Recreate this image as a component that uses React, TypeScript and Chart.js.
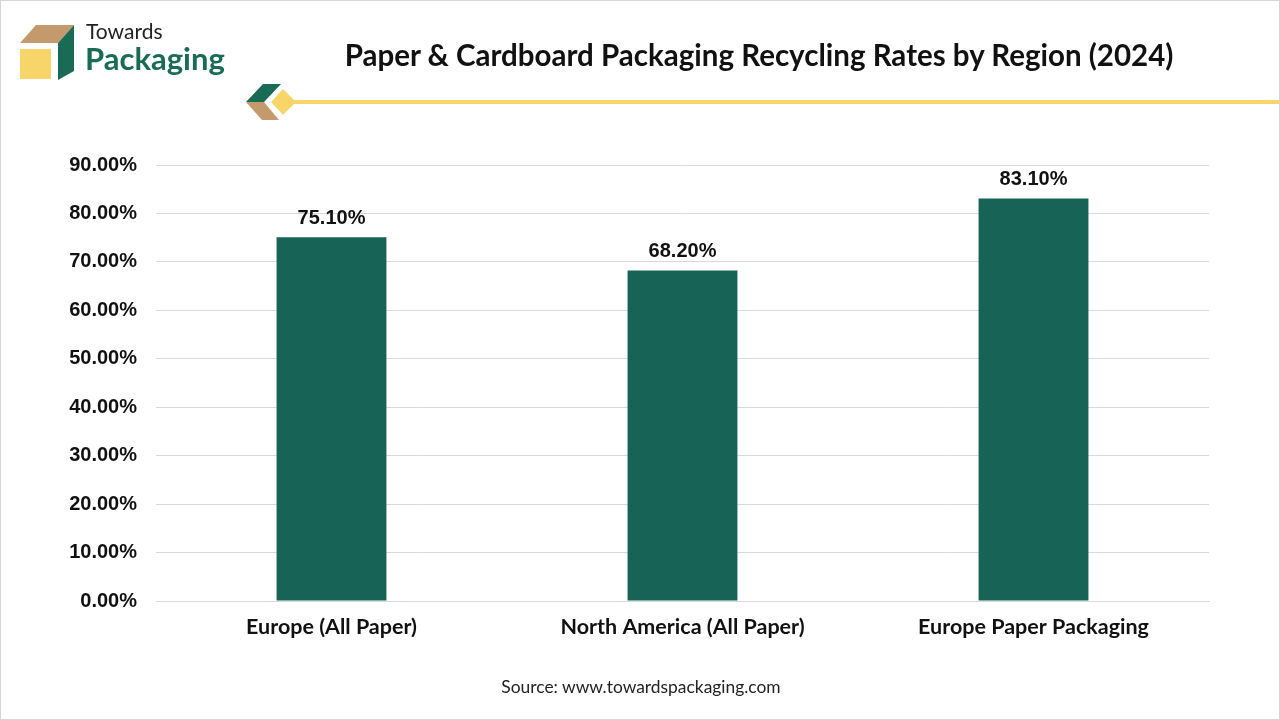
import { useEffect, useRef } from "react";
import { Chart, registerables } from "chart.js";

Chart.register(...registerables);

const regions = ["Europe (All Paper)", "North America (All Paper)", "Europe Paper Packaging"];
const recyclingRates = [75.1, 68.2, 83.1];
const yTicks = [0, 10, 20, 30, 40, 50, 60, 70, 80, 90];

const GREEN = "#176356";
const TAN = "#c49a6c";
const YELLOW = "#f8d568";

// draws the value above each bar
const valueLabels = {
  id: "valueLabels",
  afterDatasetsDraw(chart: any) {
    const ctx = chart.ctx;
    const meta = chart.getDatasetMeta(0);
    ctx.save();
    ctx.font = "bold 20px 'Liberation Sans', Arial, sans-serif";
    ctx.fillStyle = "#111";
    ctx.textAlign = "center";
    ctx.textBaseline = "bottom";
    meta.data.forEach((bar: any, i: number) => {
      ctx.fillText(recyclingRates[i].toFixed(2) + "%", bar.x, bar.y - 9);
    });
    ctx.restore();
  },
};

const RecyclingChart = () => {
  const canvasRef = useRef<HTMLCanvasElement | null>(null);

  useEffect(() => {
    if (!canvasRef.current) return;
    const chart = new Chart(canvasRef.current, {
      type: "bar",
      data: {
        labels: regions,
        datasets: [
          {
            data: recyclingRates,
            backgroundColor: GREEN,
            barPercentage: 0.626,
            categoryPercentage: 0.5,
          },
        ],
      },
      options: {
        responsive: true,
        maintainAspectRatio: false,
        animation: false,
        layout: { padding: { top: 164, right: 72, bottom: 70, left: 0 } },
        plugins: {
          legend: { display: false },
          tooltip: { enabled: false },
        },
        scales: {
          x: {
            grid: { display: false },
            border: { color: "#d9d9d9" },
            ticks: {
              color: "#111",
              padding: 5,
              font: { family: "Lato, sans-serif", weight: "bold", size: 21.5 },
            },
            afterFit: (s: any) => {
              s.height = 50;
            },
          },
          y: {
            min: 0,
            max: 90,
            afterBuildTicks: (s: any) => {
              s.ticks = yTicks.map((v) => ({ value: v }));
            },
            grid: { color: "#d9d9d9", drawTicks: false },
            border: { display: false },
            ticks: {
              color: "#111",
              padding: 19,
              font: { family: "'Liberation Sans', Arial, sans-serif", weight: "bold", size: 20 },
              callback: (v: any) => Number(v).toFixed(2) + "%",
            },
            afterFit: (s: any) => {
              s.width = 155;
            },
          },
        },
      },
      plugins: [valueLabels],
    });
    return () => chart.destroy();
  }, []);

  return <canvas ref={canvasRef}></canvas>;
};

const App = () => {
  useEffect(() => {
    document.body.style.margin = "0";
  }, []);

  return (
    <div
      style={{
        position: "relative",
        width: 1280,
        height: 720,
        background: "#fff",
        boxSizing: "border-box",
        border: "1px solid #d6d6d6",
        overflow: "hidden",
      }}
    >
      <div style={{ position: "absolute", left: 0, top: 0, width: 1280, height: 720 }}>
        <RecyclingChart />
      </div>

      {/* logo */}
      <svg style={{ position: "absolute", left: 0, top: 0 }} width={300} height={130}>
        <polygon points="19,42 35,24 73,24 57,42" fill={TAN} />
        <polygon points="57,42 73,24 73,70 57,79" fill="#1a6b55" />
        <rect x={19} y={48} width={31} height={30} fill={YELLOW} />
        <polygon points="245,101 262,83 280,83 263,101" fill="#1a6b55" />
        <polygon points="245,101 263,101 278,119 261,119" fill={TAN} />
        <polygon points="270,101 282,88 295,101 282,114" fill={YELLOW} />
      </svg>
      <div style={{ position: "absolute", left: 290, top: 99, width: 990, height: 4, background: YELLOW }} />
      <div
        style={{
          position: "absolute",
          left: 85,
          top: 18,
          fontFamily: "Lato, sans-serif",
          fontSize: 21,
          color: "#222",
          lineHeight: "24px",
        }}
      >
        Towards
      </div>
      <div
        style={{
          position: "absolute",
          left: 84,
          top: 39,
          fontFamily: "Lato, sans-serif",
          fontWeight: "bold",
          fontSize: 31,
          color: "#1a6b55",
          lineHeight: "36px",
        }}
      >
        Packaging
      </div>

      <div
        style={{
          position: "absolute",
          left: 300,
          width: 916,
          top: 35,
          textAlign: "center",
          fontFamily: "Lato, sans-serif",
          fontWeight: "bold",
          fontSize: 29.5,
          color: "#111",
          lineHeight: "38px",
        }}
      >
        Paper &amp; Cardboard Packaging Recycling Rates by Region (2024)
      </div>

      <div
        style={{
          position: "absolute",
          left: 0,
          width: 1280,
          top: 675,
          textAlign: "center",
          fontFamily: "Lato, sans-serif",
          fontSize: 17.4,
          color: "#222",
          lineHeight: "22px",
        }}
      >
        Source: www.towardspackaging.com
      </div>
    </div>
  );
};

export default App;
